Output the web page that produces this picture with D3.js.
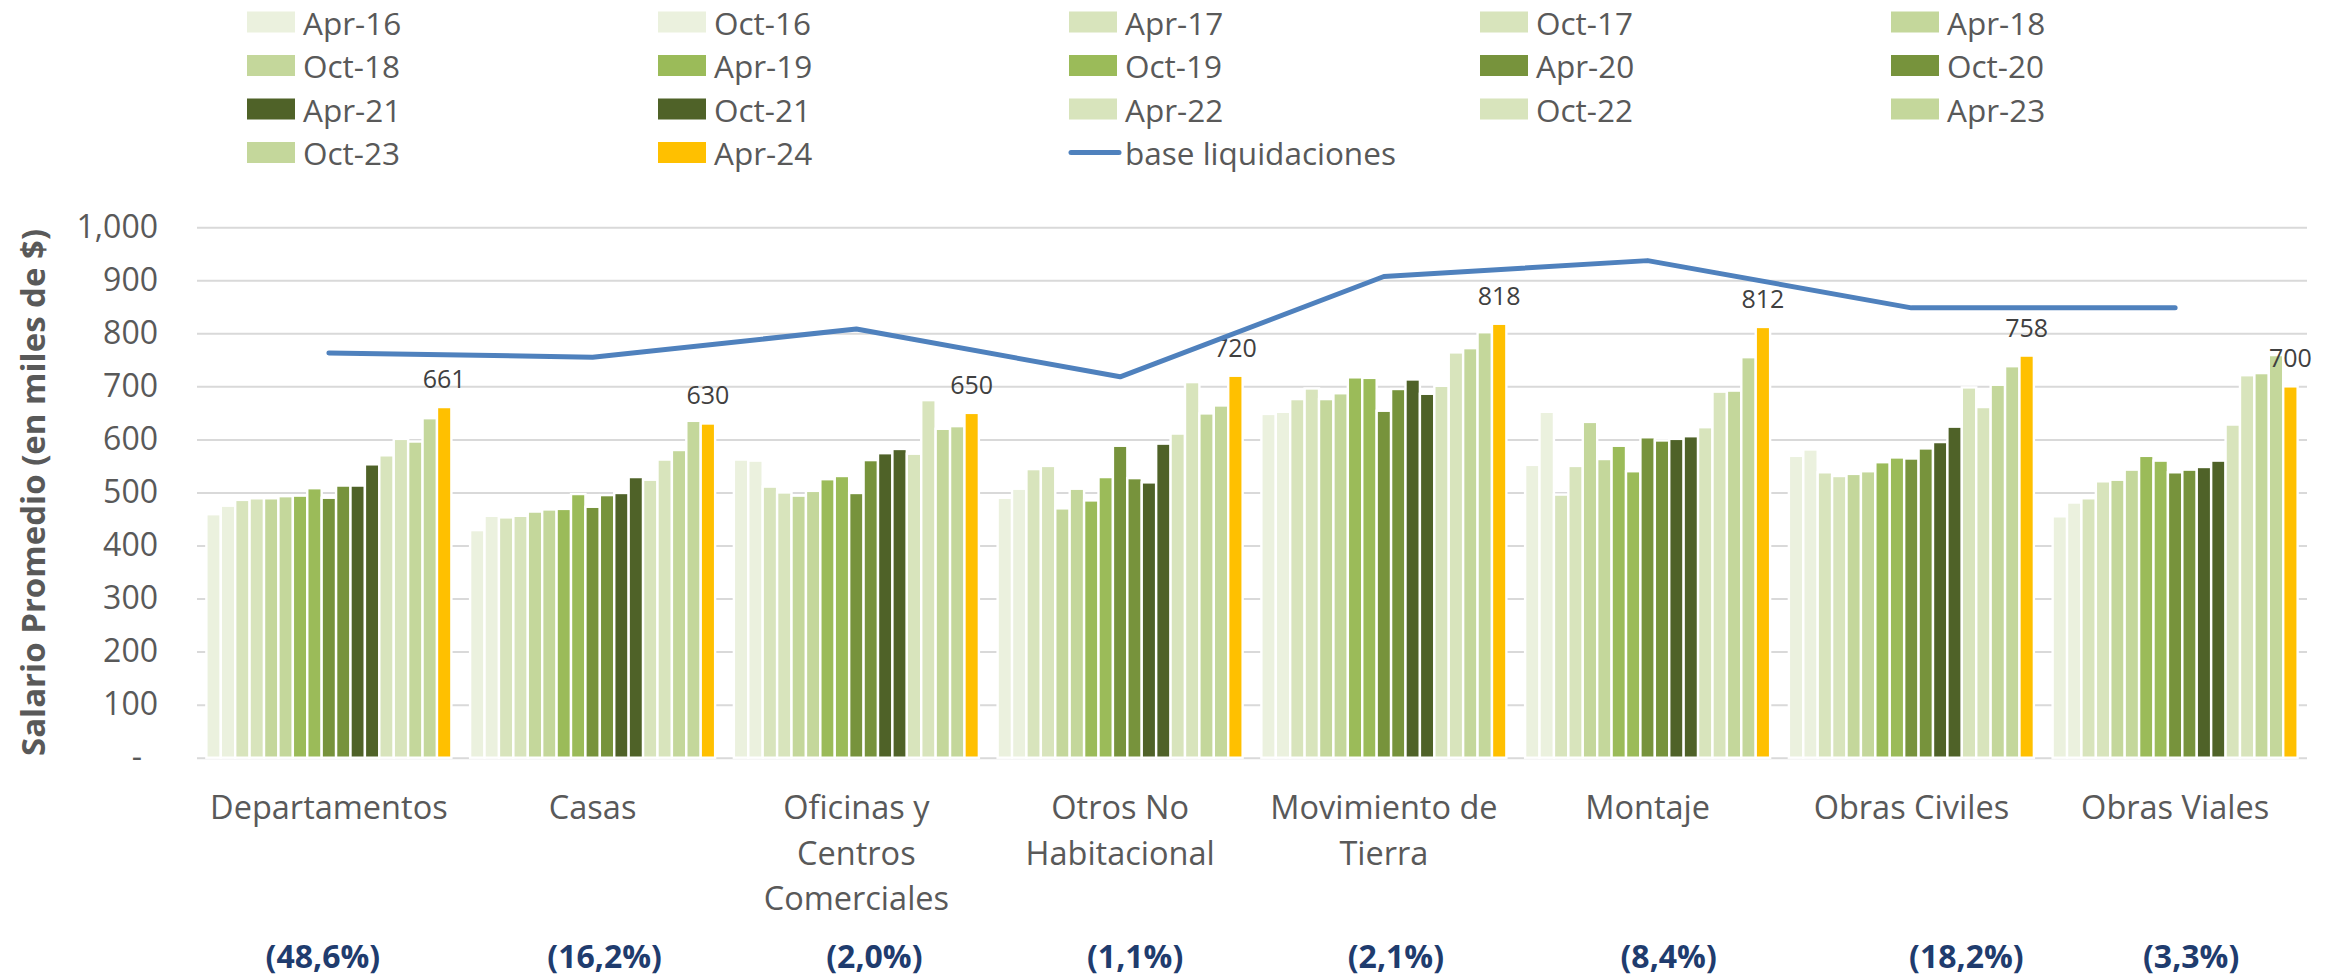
<!DOCTYPE html>
<html>
<head>
<meta charset="utf-8">
<script src="https://cdnjs.cloudflare.com/ajax/libs/d3/7.8.5/d3.min.js"></script>
<style>
  html, body { margin: 0; padding: 0; background: #fff; }
  svg { display: block; font-family: "Open Sans", sans-serif; }
</style>
</head>
<body>
<div id="chart"></div>
<script>
// Datos del gráfico
const categories = ["Departamentos", "Casas", "Oficinas y Centros Comerciales", "Otros No Habitacional",
  "Movimiento de Tierra", "Montaje", "Obras Civiles", "Obras Viales"];
const categoryLines = [["Departamentos"], ["Casas"], ["Oficinas y", "Centros", "Comerciales"],
  ["Otros No", "Habitacional"], ["Movimiento de", "Tierra"], ["Montaje"], ["Obras Civiles"], ["Obras Viales"]];
const periods = ["Apr-16", "Oct-16", "Apr-17", "Oct-17", "Apr-18", "Oct-18", "Apr-19", "Oct-19",
  "Apr-20", "Oct-20", "Apr-21", "Oct-21", "Apr-22", "Oct-22", "Apr-23", "Oct-23", "Apr-24"];

// salario promedio (miles de $) por categoría, un valor por periodo
const departamentos = [459, 475, 486, 489, 489, 493, 494, 508, 490, 513, 513, 553, 570, 601, 596, 640, 661];
const casas         = [429, 456, 453, 456, 464, 468, 469, 497, 473, 495, 499, 529, 524, 562, 580, 635, 630];
const oficinas      = [562, 560, 511, 500, 494, 503, 525, 531, 499, 561, 574, 582, 573, 674, 620, 625, 650];
const otrosNoHab    = [490, 507, 544, 550, 470, 507, 485, 529, 588, 527, 519, 592, 611, 708, 649, 664, 720];
const movTierra     = [648, 652, 676, 696, 676, 687, 717, 716, 654, 695, 713, 686, 701, 764, 772, 802, 818];
const montaje       = [552, 652, 496, 550, 633, 563, 588, 540, 604, 598, 601, 606, 623, 690, 692, 755, 812];
const obrasCiviles  = [569, 581, 538, 531, 535, 540, 557, 566, 564, 583, 595, 624, 698, 661, 703, 738, 758];
const obrasViales   = [455, 481, 489, 521, 524, 543, 569, 560, 538, 543, 548, 560, 628, 721, 725, 759, 700];
const seriesByCategory = [departamentos, casas, oficinas, otrosNoHab, movTierra, montaje, obrasCiviles, obrasViales];

const baseLiquidaciones = [763, 755, 808, 718, 907, 937, 848, 848];
const shares = ["(48,6%)", "(16,2%)", "(2,0%)", "(1,1%)", "(2,1%)", "(8,4%)", "(18,2%)", "(3,3%)"];
const yTicks = [0, 100, 200, 300, 400, 500, 600, 700, 800, 900, 1000];

// colores
const periodColors = ["#EBF1DE", "#EBF1DE", "#D8E4BC", "#D8E4BC", "#C4D79B", "#C4D79B", "#9BBB59", "#9BBB59",
  "#77933C", "#77933C", "#4F6228", "#4F6228", "#D8E4BC", "#D8E4BC", "#C4D79B", "#C4D79B", "#FFC000"];
const LINE_COLOR = "#4F81BD";
const TEXT_COLOR = "#595959";

// Layout
const W = 2341, H = 979;
const PLOT = { left: 197, right: 2307, top: 227.2, bottom: 757.7 };
const shareNudge = [-6, 12, 18, 15, 12, 21, 55, 16];

const svg = d3.select("#chart").append("svg")
  .attr("width", W)
  .attr("height", H);

// Escalas
const x0 = d3.scaleBand()
  .domain(categories)
  .range([PLOT.left, PLOT.right]);

const x1 = d3.scaleBand()
  .domain(periods)
  .range([0, x0.bandwidth()])
  .paddingOuter(0.65);

const y = d3.scaleLinear()
  .domain([0, 1000])
  .range([PLOT.bottom, PLOT.top]);

const color = d3.scaleOrdinal().domain(periods).range(periodColors);

// Grilla + eje Y
const yAxis = svg.append("g")
  .attr("transform", `translate(${PLOT.left},0)`)
  .call(d3.axisLeft(y)
    .tickValues(yTicks)
    .tickSize(-(PLOT.right - PLOT.left))
    .tickPadding(39)
    .tickFormat(d => d === 0 ? "-" : d3.format(",")(d)));

yAxis.select(".domain").remove();
yAxis.selectAll(".tick line")
  .attr("stroke", "#D9D9D9")
  .attr("stroke-width", 2);
yAxis.selectAll(".tick text")
  .attr("fill", TEXT_COLOR)
  .style("font-size", "32px")
  .style("font-family", "'Open Sans', sans-serif")
  .attr("dx", d => d === 0 ? -16 : 0);

// Titulo eje Y
svg.append("text")
  .attr("transform", `translate(32,${(PLOT.top + PLOT.bottom) / 2}) rotate(-90)`)
  .attr("text-anchor", "middle")
  .attr("dominant-baseline", "central")
  .attr("fill", TEXT_COLOR)
  .style("font-size", "33px")
  .style("font-weight", "bold")
  .text("Salario Promedio (en miles de $)");

// Barras
const groups = svg.append("g")
  .selectAll("g")
  .data(categories)
  .join("g")
  .attr("transform", d => `translate(${x0(d)},0)`);

groups.selectAll("rect")
  .data((d, i) => seriesByCategory[i].map((v, j) => ({ period: periods[j], value: v })))
  .join("rect")
  .attr("x", d => x1(d.period))
  .attr("width", x1.bandwidth())
  .attr("y", d => y(d.value))
  .attr("height", d => y(0) - y(d.value))
  .attr("fill", d => color(d.period))
  .attr("stroke", "#fff")
  .attr("stroke-width", 2.4);

// Etiquetas de datos (Apr-24)
const lastPeriod = periods[periods.length - 1];
groups.append("text")
  .attr("x", x1(lastPeriod) + x1.bandwidth() / 2)
  .attr("y", (d, i) => y(seriesByCategory[i][periods.length - 1]) - 19)
  .attr("text-anchor", "middle")
  .attr("fill", "#404040")
  .style("font-size", "25px")
  .text((d, i) => seriesByCategory[i][periods.length - 1]);

// Linea base liquidaciones
const line = d3.line()
  .x((d, i) => x0(categories[i]) + x0.bandwidth() / 2)
  .y(d => y(d));

svg.append("path")
  .datum(baseLiquidaciones)
  .attr("d", line)
  .attr("fill", "none")
  .attr("stroke", LINE_COLOR)
  .attr("stroke-width", 5)
  .attr("stroke-linecap", "round")
  .attr("stroke-linejoin", "round");

// Etiquetas de categorias
const catLabels = svg.append("g")
  .selectAll("text")
  .data(categories)
  .join("text")
  .attr("x", d => x0(d) + x0.bandwidth() / 2)
  .attr("y", 819)
  .attr("text-anchor", "middle")
  .attr("fill", TEXT_COLOR)
  .style("font-size", "32.5px");

catLabels.selectAll("tspan")
  .data((d, i) => categoryLines[i])
  .join("tspan")
  .attr("x", function () { return this.parentNode.getAttribute("x"); })
  .attr("dy", (d, i) => i === 0 ? 0 : 45.5)
  .text(d => d);

// Participacion (%)
svg.append("g")
  .selectAll("text")
  .data(categories)
  .join("text")
  .attr("x", (d, i) => x0(d) + x0.bandwidth() / 2 + shareNudge[i])
  .attr("y", 968)
  .attr("text-anchor", "middle")
  .attr("fill", "#1F3C6E")
  .style("font-size", "32px")
  .style("font-weight", "bold")
  .text((d, i) => shares[i]);

// Leyenda
const legendItems = periods.map(p => ({ name: p, type: "bar" }))
  .concat([{ name: "base liquidaciones", type: "line" }]);
const LEG = { x: 247, y: 22, colW: 411, rowH: 43.5, cols: 5, swW: 48, swH: 21 };

const legend = svg.append("g")
  .selectAll("g")
  .data(legendItems)
  .join("g")
  .attr("transform", (d, i) => `translate(${LEG.x + (i % LEG.cols) * LEG.colW},${LEG.y + Math.floor(i / LEG.cols) * LEG.rowH})`);

legend.filter(d => d.type === "bar").append("rect")
  .attr("x", 0)
  .attr("y", -LEG.swH / 2)
  .attr("width", LEG.swW)
  .attr("height", LEG.swH)
  .attr("fill", d => color(d.name));

legend.filter(d => d.type === "line").append("line")
  .attr("x1", 2)
  .attr("x2", LEG.swW + 2)
  .attr("stroke", LINE_COLOR)
  .attr("stroke-width", 5)
  .attr("stroke-linecap", "round");

legend.append("text")
  .attr("x", LEG.swW + 8)
  .attr("dominant-baseline", "central")
  .attr("fill", TEXT_COLOR)
  .style("font-size", "31.5px")
  .text(d => d.name);
</script>
</body>
</html>
